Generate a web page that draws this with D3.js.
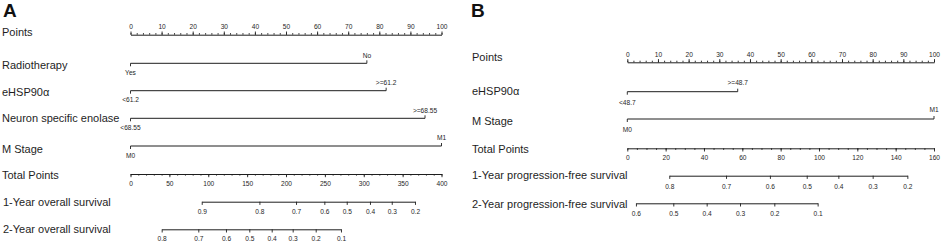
<!DOCTYPE html>
<html><head><meta charset="utf-8">
<script src="https://cdn.jsdelivr.net/npm/d3@7"></script>
<style>body{margin:0;background:#fff}svg{display:block}</style>
</head><body>
<svg id="c" width="941" height="242"></svg>
<script>
// ---------- DATA ----------
const pointsMajor = [0,10,20,30,40,50,60,70,80,90,100];
const pointsMinor = [0,2,4,6,8,10,12,14,16,18,20,22,24,26,28,30,32,34,36,38,40,42,44,46,48,50,52,54,56,58,60,62,64,66,68,70,72,74,76,78,80,82,84,86,88,90,92,94,96,98,100];

// Panel A
const varsA = ["Radiotherapy","eHSP90α","Neuron specific enolase","M Stage"];
const lowLevelsA = ["Yes","<61.2","<68.55","M0"];
const highLevelsA = ["No",">=61.2",">=68.55","M1"];
const highPointsA = [76, 82.2, 94.7, 100];
const totalMajorA = [0,50,100,150,200,250,300,350,400];
const totalMinorA = [0,10,20,30,40,50,60,70,80,90,100,110,120,130,140,150,160,170,180,190,200,210,220,230,240,250,260,270,280,290,300,310,320,330,340,350,360,370,380,390,400];
const os1Probs = [0.9,0.8,0.7,0.6,0.5,0.4,0.3,0.2];
const os1Total = [91.6,165.8,212.9,249.3,278.1,308.0,336.0,365.9];
const os2Probs = [0.8,0.7,0.6,0.5,0.4,0.3,0.2,0.1];
const os2Total = [40.1,87.2,122.8,152.8,181.6,208.6,238.2,270.7];

// Panel B
const varsB = ["eHSP90α","M Stage"];
const lowLevelsB = ["<48.7","M0"];
const highLevelsB = [">=48.7","M1"];
const highPointsB = [36, 100];
const totalMajorB = [0,20,40,60,80,100,120,140,160];
const totalMinorB = [0,5,10,15,20,25,30,35,40,45,50,55,60,65,70,75,80,85,90,95,100,105,110,115,120,125,130,135,140,145,150,155,160];
const pfs1Probs = [0.8,0.7,0.6,0.5,0.4,0.3,0.2];
const pfs1Total = [21.9,51.5,74.4,93.6,110.1,128.0,146.1];
const pfs2Probs = [0.6,0.5,0.4,0.3,0.2,0.1];
const pfs2Total = [4.5,24.0,41.4,58.8,76.7,99.3];

// ---------- DRAWING ----------
const svg = d3.select("#c");
const FONT = "'Liberation Sans', Arial, Helvetica, sans-serif";
const INK = "#1e1e1e";
const LABEL_FS = 11, TICK_FS = 6.6;

function rowLabel(x, y, text) {
  svg.append("text").attr("x", x).attr("y", y).attr("dy", "0.35em")
    .attr("font-family", FONT).attr("font-size", LABEL_FS).attr("fill", INK).text(text);
}
function styleAxis(g) {
  g.selectAll("path.domain").attr("stroke", INK).attr("stroke-width", 1);
  g.selectAll(".tick line").attr("stroke", INK).attr("stroke-width", 0.9);
  g.selectAll(".tick text").attr("font-family", FONT).attr("font-size", TICK_FS).attr("fill", INK);
}
function ruler(scale, y, major, minor, top) {
  const mk = top ? d3.axisTop : d3.axisBottom;
  const gMin = svg.append("g").attr("transform", `translate(0,${y})`)
    .call(mk(scale).tickValues(minor).tickSize(1.6).tickSizeOuter(0).tickFormat(""));
  styleAxis(gMin);
  const gMaj = svg.append("g").attr("transform", `translate(0,${y})`)
    .call(mk(scale).tickValues(major).tickSize(3.2).tickSizeOuter(0).tickPadding(top ? 2.2 : 4));
  styleAxis(gMaj);
  gMaj.select("path.domain").remove();
}
function probAxis(totalScale, y, probs, totals, pad) {
  const s = d3.scaleLinear().domain(probs).range(totals.map(t => totalScale(t)));
  const g = svg.append("g").attr("transform", `translate(0,${y})`)
    .call(d3.axisBottom(s).tickValues(probs).tickSize(3.2).tickSizeOuter(0).tickPadding(pad)
      .tickFormat(d3.format(".1f")));
  styleAxis(g);
}
function varLine(scale, y, pts, low, high, upOff, downOff) {
  const x0 = scale(0), x1 = scale(pts);
  svg.append("line").attr("x1", x0).attr("x2", x1).attr("y1", y).attr("y2", y)
    .attr("stroke", INK).attr("stroke-width", 1);
  svg.append("line").attr("x1", x0).attr("x2", x0).attr("y1", y).attr("y2", y + 3)
    .attr("stroke", INK).attr("stroke-width", 0.9);
  svg.append("line").attr("x1", x1).attr("x2", x1).attr("y1", y).attr("y2", y - 3)
    .attr("stroke", INK).attr("stroke-width", 0.9);
  svg.append("text").attr("x", x0).attr("y", y + downOff).attr("dy", "0.35em")
    .attr("text-anchor", "middle").attr("font-family", FONT).attr("font-size", TICK_FS)
    .attr("fill", INK).text(low);
  svg.append("text").attr("x", x1).attr("y", y - upOff).attr("dy", "0.35em")
    .attr("text-anchor", "middle").attr("font-family", FONT).attr("font-size", TICK_FS)
    .attr("fill", INK).text(high);
}
function panelLetter(x, text) {
  svg.append("text").attr("x", x).attr("y", 16.8).attr("font-family", FONT)
    .attr("font-weight", "bold").attr("font-size", 19).attr("fill", "#111").text(text);
}

// ----- Panel A -----
(function () {
  const xA0 = 130.5, xA1 = 441.5;
  const pts = d3.scaleLinear().domain([0, 100]).range([xA0, xA1]);
  const tot = d3.scaleLinear().domain([0, 400]).range([xA0, xA1]);
  panelLetter(3, "A");
  rowLabel(2, 31.7, "Points");
  ruler(pts, 34.7, pointsMajor, pointsMinor, true);
  const lineYs = [63.3, 90.7, 118.3, 146];
  const labYs = [65, 91.7, 118.3, 149.3];
  varsA.forEach((v, i) => {
    rowLabel(2, labYs[i], v);
    varLine(pts, lineYs[i], highPointsA[i], lowLevelsA[i], highLevelsA[i], 8, 9.3);
  });
  rowLabel(2, 175, "Total Points");
  ruler(tot, 174, totalMajorA, totalMinorA, false);
  rowLabel(3, 201.7, "1-Year overall survival");
  probAxis(tot, 201.7, os1Probs, os1Total, 4);
  rowLabel(3, 229.3, "2-Year overall survival");
  probAxis(tot, 229.3, os2Probs, os2Total, 4);
})();

// ----- Panel B -----
(function () {
  const xB0 = 627.3, xB1 = 934;
  const pts = d3.scaleLinear().domain([0, 100]).range([xB0, xB1]);
  const tot = d3.scaleLinear().domain([0, 160]).range([xB0, xB1]);
  panelLetter(471, "B");
  rowLabel(472, 57.3, "Points");
  ruler(pts, 62.3, pointsMajor, pointsMinor, true);
  const lineYs = [91.7, 119];
  const labYs = [90.7, 121];
  varsB.forEach((v, i) => {
    rowLabel(472, labYs[i], v);
    varLine(pts, lineYs[i], highPointsB[i], lowLevelsB[i], highLevelsB[i], 9.2, 10.8);
  });
  rowLabel(472, 149, "Total Points");
  ruler(tot, 148.3, totalMajorB, totalMinorB, false);
  rowLabel(472, 175, "1-Year progression-free survival");
  probAxis(tot, 175.7, pfs1Probs, pfs1Total, 5);
  rowLabel(472, 204.5, "2-Year progression-free survival");
  probAxis(tot, 203.3, pfs2Probs, pfs2Total, 5);
})();
</script>
</body></html>
